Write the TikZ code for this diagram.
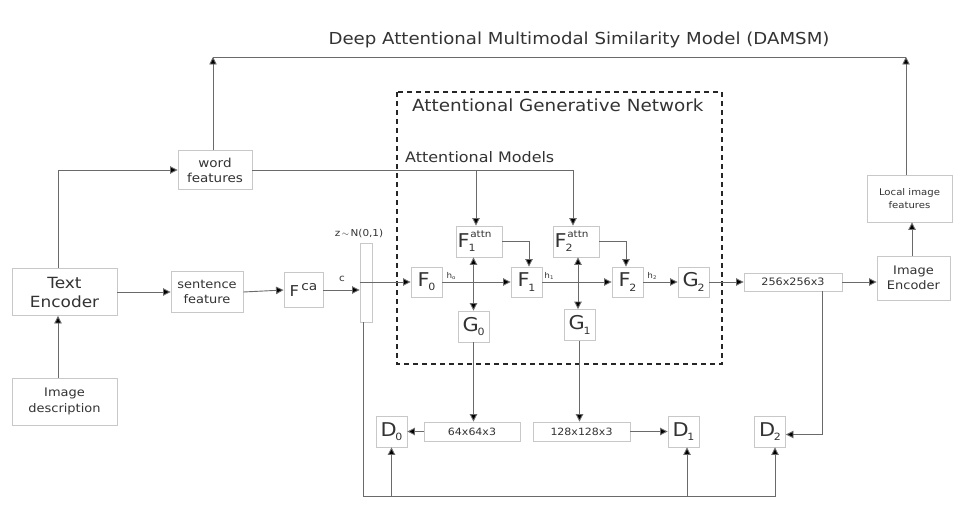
\documentclass[tikz,border=0pt]{standalone}
\usepackage{fontspec}
\setmainfont[FakeStretch=1.1]{DejaVu Sans}
\usetikzlibrary{arrows.meta,calc}
\definecolor{boxc}{HTML}{C8C8C8}
\definecolor{linec}{HTML}{6A6A6A}
\definecolor{txtc}{HTML}{333333}
\newcommand{\fs}[2]{\fontsize{#1}{#2}\selectfont}
\newcommand{\sub}[1]{\kern-1.2pt\raisebox{-0.22em}{\fs{10}{10}#1}}
\newcommand{\attnF}[1]{F\rlap{\kern0.5pt\raisebox{0.5em}{\fs{9.5}{9.5}attn}}\sub{#1}\hspace{1.3em}}
\begin{document}
\begin{tikzpicture}[x=1pt,y=-1pt,
  bx/.style={draw=boxc,line width=0.9pt,fill=white,text=txtc,align=center,inner sep=0pt,anchor=center},
  ln/.style={draw=linec,line width=0.9pt},
  arr/.style={ln,-{Triangle[length=7.5pt,width=7.5pt,fill=black]}},
  darr/.style={ln,{Triangle[length=7.5pt,width=7.5pt,fill=black]}-{Triangle[length=7.5pt,width=7.5pt,fill=black]}},
  lbl/.style={text=txtc,inner sep=0pt}]
\useasboundingbox (0,0) rectangle (972,508);
% title
\node[lbl,font=\fs{16.5}{18}] (title) at (579,40) {Deep Attentional Multimodal Similarity Model (DAMSM)};
\coordinate (top) at (0,57);
\coordinate (bot) at (0,496);
% dashed box
\draw[draw=black!85,line width=1.6pt,dash pattern=on 5pt off 4pt] (397,92) rectangle (722,364);
\node[lbl,anchor=west,font=\fs{16.7}{18}] (agn) at (412,105) {Attentional Generative Network};
\node[lbl,anchor=west,font=\fs{14.5}{16}] (am) at (405,157) {Attentional Models};
% left boxes
\node[bx,minimum width=105pt,minimum height=47pt,font=\fs{15.4}{19}] (te) at (64.5,292) {Text\\Encoder};
\node[bx,minimum width=105pt,minimum height=47pt,font=\fs{11.8}{16}] (id) at (64.5,401.5) {Image\\description};
\node[bx,minimum width=74pt,minimum height=39pt,font=\fs{12.3}{15}] (wf) at (215,170) {word\\features};
\node[bx,minimum width=72pt,minimum height=41pt,font=\fs{11.8}{15}] (sf) at (207,292) {sentence\\feature};
\node[bx,minimum width=39pt,minimum height=35pt,font=\fs{15}{15}] (fca) at (303.5,290) {F\raisebox{0.35em}{\fs{12.5}{12}\,ca}};
\node[bx,minimum width=12pt,minimum height=79pt] (bar) at (366,282.5) {};
\node[lbl,font=\fs{9.5}{10}] (zl) at (359,234) {z\,\raisebox{0.1em}{$\sim$}\,N(0,1)};
\node[lbl,font=\fs{9.5}{10}] (cl) at (342,279) {c};
% generator chain
\node[bx,minimum width=31pt,minimum height=30pt,font=\fs{19}{19}] (f0) at (426.5,282) {F\sub{0}};
\node[bx,minimum width=31pt,minimum height=30pt,font=\fs{19}{19}] (f1) at (526.5,282) {F\sub{1}};
\node[bx,minimum width=31pt,minimum height=30pt,font=\fs{19}{19}] (f2) at (627.5,282) {F\sub{2}};
\node[bx,minimum width=31pt,minimum height=30pt,font=\fs{19}{19}] (g2) at (693.5,282) {G\sub{2}};
\node[bx,minimum width=46pt,minimum height=31pt,font=\fs{19}{19}] (f1a) at (479,241.5) {\attnF{1}};
\node[bx,minimum width=46pt,minimum height=31pt,font=\fs{19}{19}] (f2a) at (576,241.5) {\attnF{2}};
\node[bx,minimum width=31pt,minimum height=31pt,font=\fs{19}{19}] (g0) at (473.5,326.5) {G\sub{0}};
\node[bx,minimum width=31pt,minimum height=31pt,font=\fs{19}{19}] (g1) at (579.5,325) {G\sub{1}};
\node[lbl,font=\fs{8}{8}] (h0) at (451,276) {h\raisebox{-0.2em}{\fs{5}{5}o}};
\node[lbl,font=\fs{8}{8}] (h1) at (549,276) {h\raisebox{-0.2em}{\fs{5}{5}1}};
\node[lbl,font=\fs{8}{8}] (h2) at (652,276) {h\raisebox{-0.2em}{\fs{5}{5}2}};
% image boxes
\node[bx,minimum width=96pt,minimum height=19pt,font=\fs{10}{10}] (s64) at (472,431.5) {64x64x3};
\node[bx,minimum width=97pt,minimum height=19pt,font=\fs{10}{10}] (s128) at (581.5,431.5) {128x128x3};
\node[bx,minimum width=98pt,minimum height=18pt,font=\fs{10.2}{10}] (s256) at (793,282) {256x256x3};
\node[bx,minimum width=31pt,minimum height=31pt,font=\fs{19}{19}] (d0) at (391.5,431.5) {D\sub{0}};
\node[bx,minimum width=31pt,minimum height=31pt,font=\fs{19}{19}] (d1) at (683.5,431.5) {D\sub{1}};
\node[bx,minimum width=31pt,minimum height=31pt,font=\fs{19}{19}] (d2) at (770,431.5) {D\sub{2}};
\node[bx,minimum width=73pt,minimum height=44pt,font=\fs{11.8}{15}] (ie) at (913.5,278) {Image\\Encoder};
\node[bx,minimum width=85pt,minimum height=47pt,font=\fs{9.2}{13}] (lif) at (909.5,198.5) {Local image\\features};
% connectors
\draw[arr] ([xshift=-6.5pt]id.north) -- ([xshift=-6.5pt]te.south);
\draw[arr] ([xshift=-6.5pt]te.north) |- (wf.west);
\draw[arr] (te.east) -- (sf.west);
\draw[arr] (sf.east) -- (fca.west);
\draw[arr] (fca.east) -- (fca.east -| bar.west);
\draw[arr] (bar.west |- f0.west) -- (f0.west);
\draw[arr] ([xshift=-2pt]wf.north) -- ([xshift=-2pt]wf.north |- top);
\draw[ln] ([xshift=-2pt]wf.north |- top) -- ([xshift=-3.5pt]lif.north |- top);
\draw[arr] ([xshift=-3.5pt]lif.north) -- ([xshift=-3.5pt]lif.north |- top);
\draw[arr] ([xshift=-1.5pt]ie.north) -- ([xshift=-1.5pt]ie.north |- lif.south);
\draw[ln] (wf.east) -- ([xshift=-3pt]wf.east -| f2a.north);
\draw[arr] ([xshift=-3pt]wf.east -| f1a.north) -- ([xshift=-3pt]f1a.north);
\draw[arr] ([xshift=-3pt]wf.east -| f2a.north) -- ([xshift=-3pt]f2a.north);
\draw[arr] (f1a.east) -| ([xshift=2.5pt]f1.north);
\draw[arr] (f2a.east) -| ([xshift=-1.5pt]f2.north);
\draw[arr] (f0.east) -- (f1.west);
\draw[arr] (f1.east) -- (f2.west);
\draw[arr] (f2.east) -- (g2.west);
\draw[arr] (g2.east) -- (s256.west);
\draw[arr] (s256.east) -- (s256.east -| ie.west);
\draw[darr] (g0.north |- f1a.south) -- (g0.north);
\draw[darr] ([xshift=-1.5pt]g1.north |- f2a.south) -- ([xshift=-1.5pt]g1.north);
\draw[arr] (g0.south) -- (g0.south |- s64.north);
\draw[arr] (g1.south) -- (g1.south |- s128.north);
\draw[arr] (s64.west) -- (d0.east);
\draw[arr] (s128.east) -- (d1.east -| d1.west);
\draw[arr] ([xshift=29pt]s256.south) |- ([yshift=-3pt]d2.east);
\draw[arr] ([xshift=-3pt]bar.south) |- ([xshift=5pt]d2.south |- bot) -- ([xshift=5pt]d2.south);
\draw[arr] (d0.south |- bot) -- (d0.south);
\draw[arr] ([xshift=3.5pt]d1.south |- bot) -- ([xshift=3.5pt]d1.south);
\end{tikzpicture}
\end{document}
